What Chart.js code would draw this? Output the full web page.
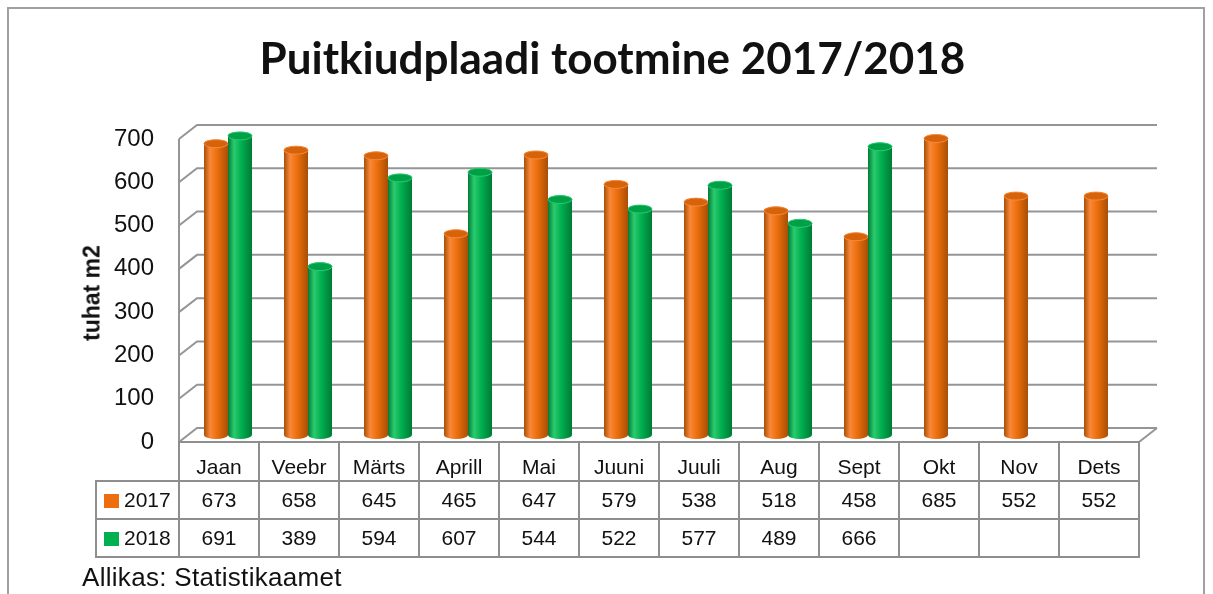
<!DOCTYPE html>
<html>
<head>
<meta charset="utf-8">
<script src="https://cdn.jsdelivr.net/npm/chart.js@4.4.1/dist/chart.umd.min.js"></script>
<style>
  body { margin: 0; background: #fff; }
  #wrap { position: relative; width: 1213px; height: 594px; overflow: hidden; font-family: "Liberation Sans", Arial, sans-serif; color: #111; }
  #frame { position: absolute; left: 7px; top: 7px; width: 1194px; height: 640px; border: 2px solid #a0a0a0; }
  #curveCanvas { position: absolute; left: 0; top: 0; }
  #title { position: absolute; left: 0; width: 1225px; top: 35px; text-align: center; font-family: Lato, sans-serif; font-weight: bold; font-size: 44px; line-height: 44px; }
  #yTitle { position: absolute; left: 92px; top: 293px; transform: translate(-50%, -50%) rotate(-90deg); font-weight: bold; font-size: 23px; white-space: nowrap; }
  #dataTable { position: absolute; border-collapse: collapse; table-layout: fixed; font-size: 21px; }
  #dataTable td { border: 2px solid #8e8e8e; text-align: center; padding: 0; }
  #dataTable td.blank { border-top: none; border-left: none; }
  #dataTable td.head { vertical-align: bottom; padding-bottom: 1px; }
  #dataTable td.leg { text-align: left; padding-left: 7px; }
  .swatch { display: inline-block; width: 15px; height: 14px; margin-right: 5px; vertical-align: -1px; }
  #source { position: absolute; left: 82px; top: 562px; font-size: 26px; letter-spacing: 0.3px; }
</style>
</head>
<body>
<div id="wrap">
  <div id="frame"></div>
  <canvas id="curveCanvas" width="1213" height="594"></canvas>
  <div id="title">Puitkiudplaadi tootmine 2017/2018</div>
  <div id="yTitle">tuhat m2</div>
  <table id="dataTable"></table>
  <div id="source">Allikas: Statistikaamet</div>
</div>
<script>
const months = ['Jaan', 'Veebr', 'Märts', 'Aprill', 'Mai', 'Juuni', 'Juuli', 'Aug', 'Sept', 'Okt', 'Nov', 'Dets'];
const seriesNames = ['2017', '2018'];
const values2017 = [673, 658, 645, 465, 647, 579, 538, 518, 458, 685, 552, 552];
const values2018 = [691, 389, 594, 607, 544, 522, 577, 489, 666, null, null, null];
const yMax = 700;
const yStep = 100;

// depth offset of the 3D box (half depth each way from the bar plane)
const dx = 9;
const dy = 7;
const gridColor = '#959595';

const palette = [
  { base: '#EC6E0C', light: '#F8893A', dark: '#A94E06', cap: '#D6620A' },
  { base: '#00B050', light: '#2BCB6E', dark: '#007A36', cap: '#00A048' }
];

const boxPlugin = {
  id: 'box3d',
  beforeDatasetsDraw: (chart) => {
    const ctx = chart.ctx;
    const yScale = chart.scales.y;
    const area = chart.chartArea;
    ctx.save();
    ctx.strokeStyle = gridColor;
    ctx.lineWidth = 2;
    yScale.ticks.forEach((t) => {
      const ym = yScale.getPixelForValue(t.value);
      ctx.beginPath();
      ctx.moveTo(area.left - dx, ym + dy);
      ctx.lineTo(area.left + dx, ym - dy);
      ctx.lineTo(area.right + dx, ym - dy);
      ctx.stroke();
    });
    // left front edge and floor
    const y0 = yScale.getPixelForValue(0);
    const yTop = yScale.getPixelForValue(yMax);
    ctx.beginPath();
    ctx.moveTo(area.left - dx, yTop + dy);
    ctx.lineTo(area.left - dx, y0 + dy);
    ctx.lineTo(area.right - dx, y0 + dy);
    ctx.lineTo(area.right + dx, y0 - dy);
    ctx.stroke();
    ctx.restore();
  },
  afterDatasetsDraw: (chart) => {
    const ctx = chart.ctx;
    chart.data.datasets.forEach((ds, di) => {
      const meta = chart.getDatasetMeta(di);
      const col = palette[di];
      meta.data.forEach((el, i) => {
        if (ds.data[i] === null) return;
        const w = el.width;
        const x0 = el.x - w / 2;
        const cx = el.x;
        const rx = w / 2;
        const ry = 4;
        const top = el.y;
        const bot = el.base;
        const grad = ctx.createLinearGradient(x0, 0, x0 + w, 0);
        grad.addColorStop(0, col.dark);
        grad.addColorStop(0.25, col.light);
        grad.addColorStop(0.55, col.base);
        grad.addColorStop(1, col.dark);
        ctx.save();
        ctx.beginPath();
        ctx.moveTo(x0, top);
        ctx.lineTo(x0, bot);
        ctx.ellipse(cx, bot, rx, ry, 0, Math.PI, 0, true);
        ctx.lineTo(x0 + w, top);
        ctx.ellipse(cx, top, rx, ry, 0, 0, Math.PI, true);
        ctx.closePath();
        ctx.fillStyle = grad;
        ctx.fill();
        ctx.beginPath();
        ctx.ellipse(cx, top, rx, ry, 0, 0, Math.PI * 2);
        ctx.fillStyle = col.cap;
        ctx.fill();
        ctx.strokeStyle = col.light;
        ctx.lineWidth = 1;
        ctx.stroke();
        ctx.restore();
      });
    });
  }
};

const ctx = document.getElementById('curveCanvas').getContext('2d');
const chart = new Chart(ctx, {
  type: 'bar',
  data: {
    labels: months,
    datasets: [
      { label: seriesNames[0], data: values2017, backgroundColor: palette[0].base },
      { label: seriesNames[1], data: values2018, backgroundColor: palette[1].base }
    ]
  },
  options: {
    responsive: false,
    animation: false,
    devicePixelRatio: 1,
    categoryPercentage: 0.6,
    barPercentage: 1.0,
    layout: { padding: { left: 0, right: 65, top: 132, bottom: 159 } },
    scales: {
      x: { display: false },
      y: {
        min: 0,
        max: yMax,
        grid: { display: false },
        border: { display: false },
        ticks: {
          stepSize: yStep,
          padding: 26,
          labelOffset: dy,
          color: '#111',
          font: { family: 'Liberation Sans', size: 24 }
        },
        afterFit: (scale) => { scale.width = 188; }
      }
    },
    plugins: {
      legend: { display: false },
      tooltip: { enabled: false },
      title: { display: false }
    }
  },
  plugins: [boxPlugin]
});

// data table under the chart, columns taken from the x scale
const xScale = chart.scales.x;
const yScale = chart.scales.y;
const colW = xScale.getPixelForValue(1) - xScale.getPixelForValue(0);
const tableLeft = xScale.getPixelForValue(0) - colW / 2 - dx;
const legW = 83;
const table = document.getElementById('dataTable');
table.style.left = (tableLeft - legW - 1) + 'px';
table.style.top = (yScale.getPixelForValue(0) + dy - 1) + 'px';
table.style.width = (legW + colW * months.length) + 'px';
let html = '<colgroup><col style="width:' + legW + 'px">';
months.forEach(() => { html += '<col style="width:' + colW + 'px">'; });
html += '</colgroup><tr style="height:39px"><td class="blank"></td>';
months.forEach((m) => { html += '<td class="head">' + m + '</td>'; });
html += '</tr>';
[values2017, values2018].forEach((vals, si) => {
  html += '<tr style="height:38px"><td class="leg"><span class="swatch" style="background:' +
    palette[si].base + '"></span>' + seriesNames[si] + '</td>';
  vals.forEach((v) => { html += '<td>' + (v === null ? '' : v) + '</td>'; });
  html += '</tr>';
});
table.innerHTML = html;
</script>
</body>
</html>
